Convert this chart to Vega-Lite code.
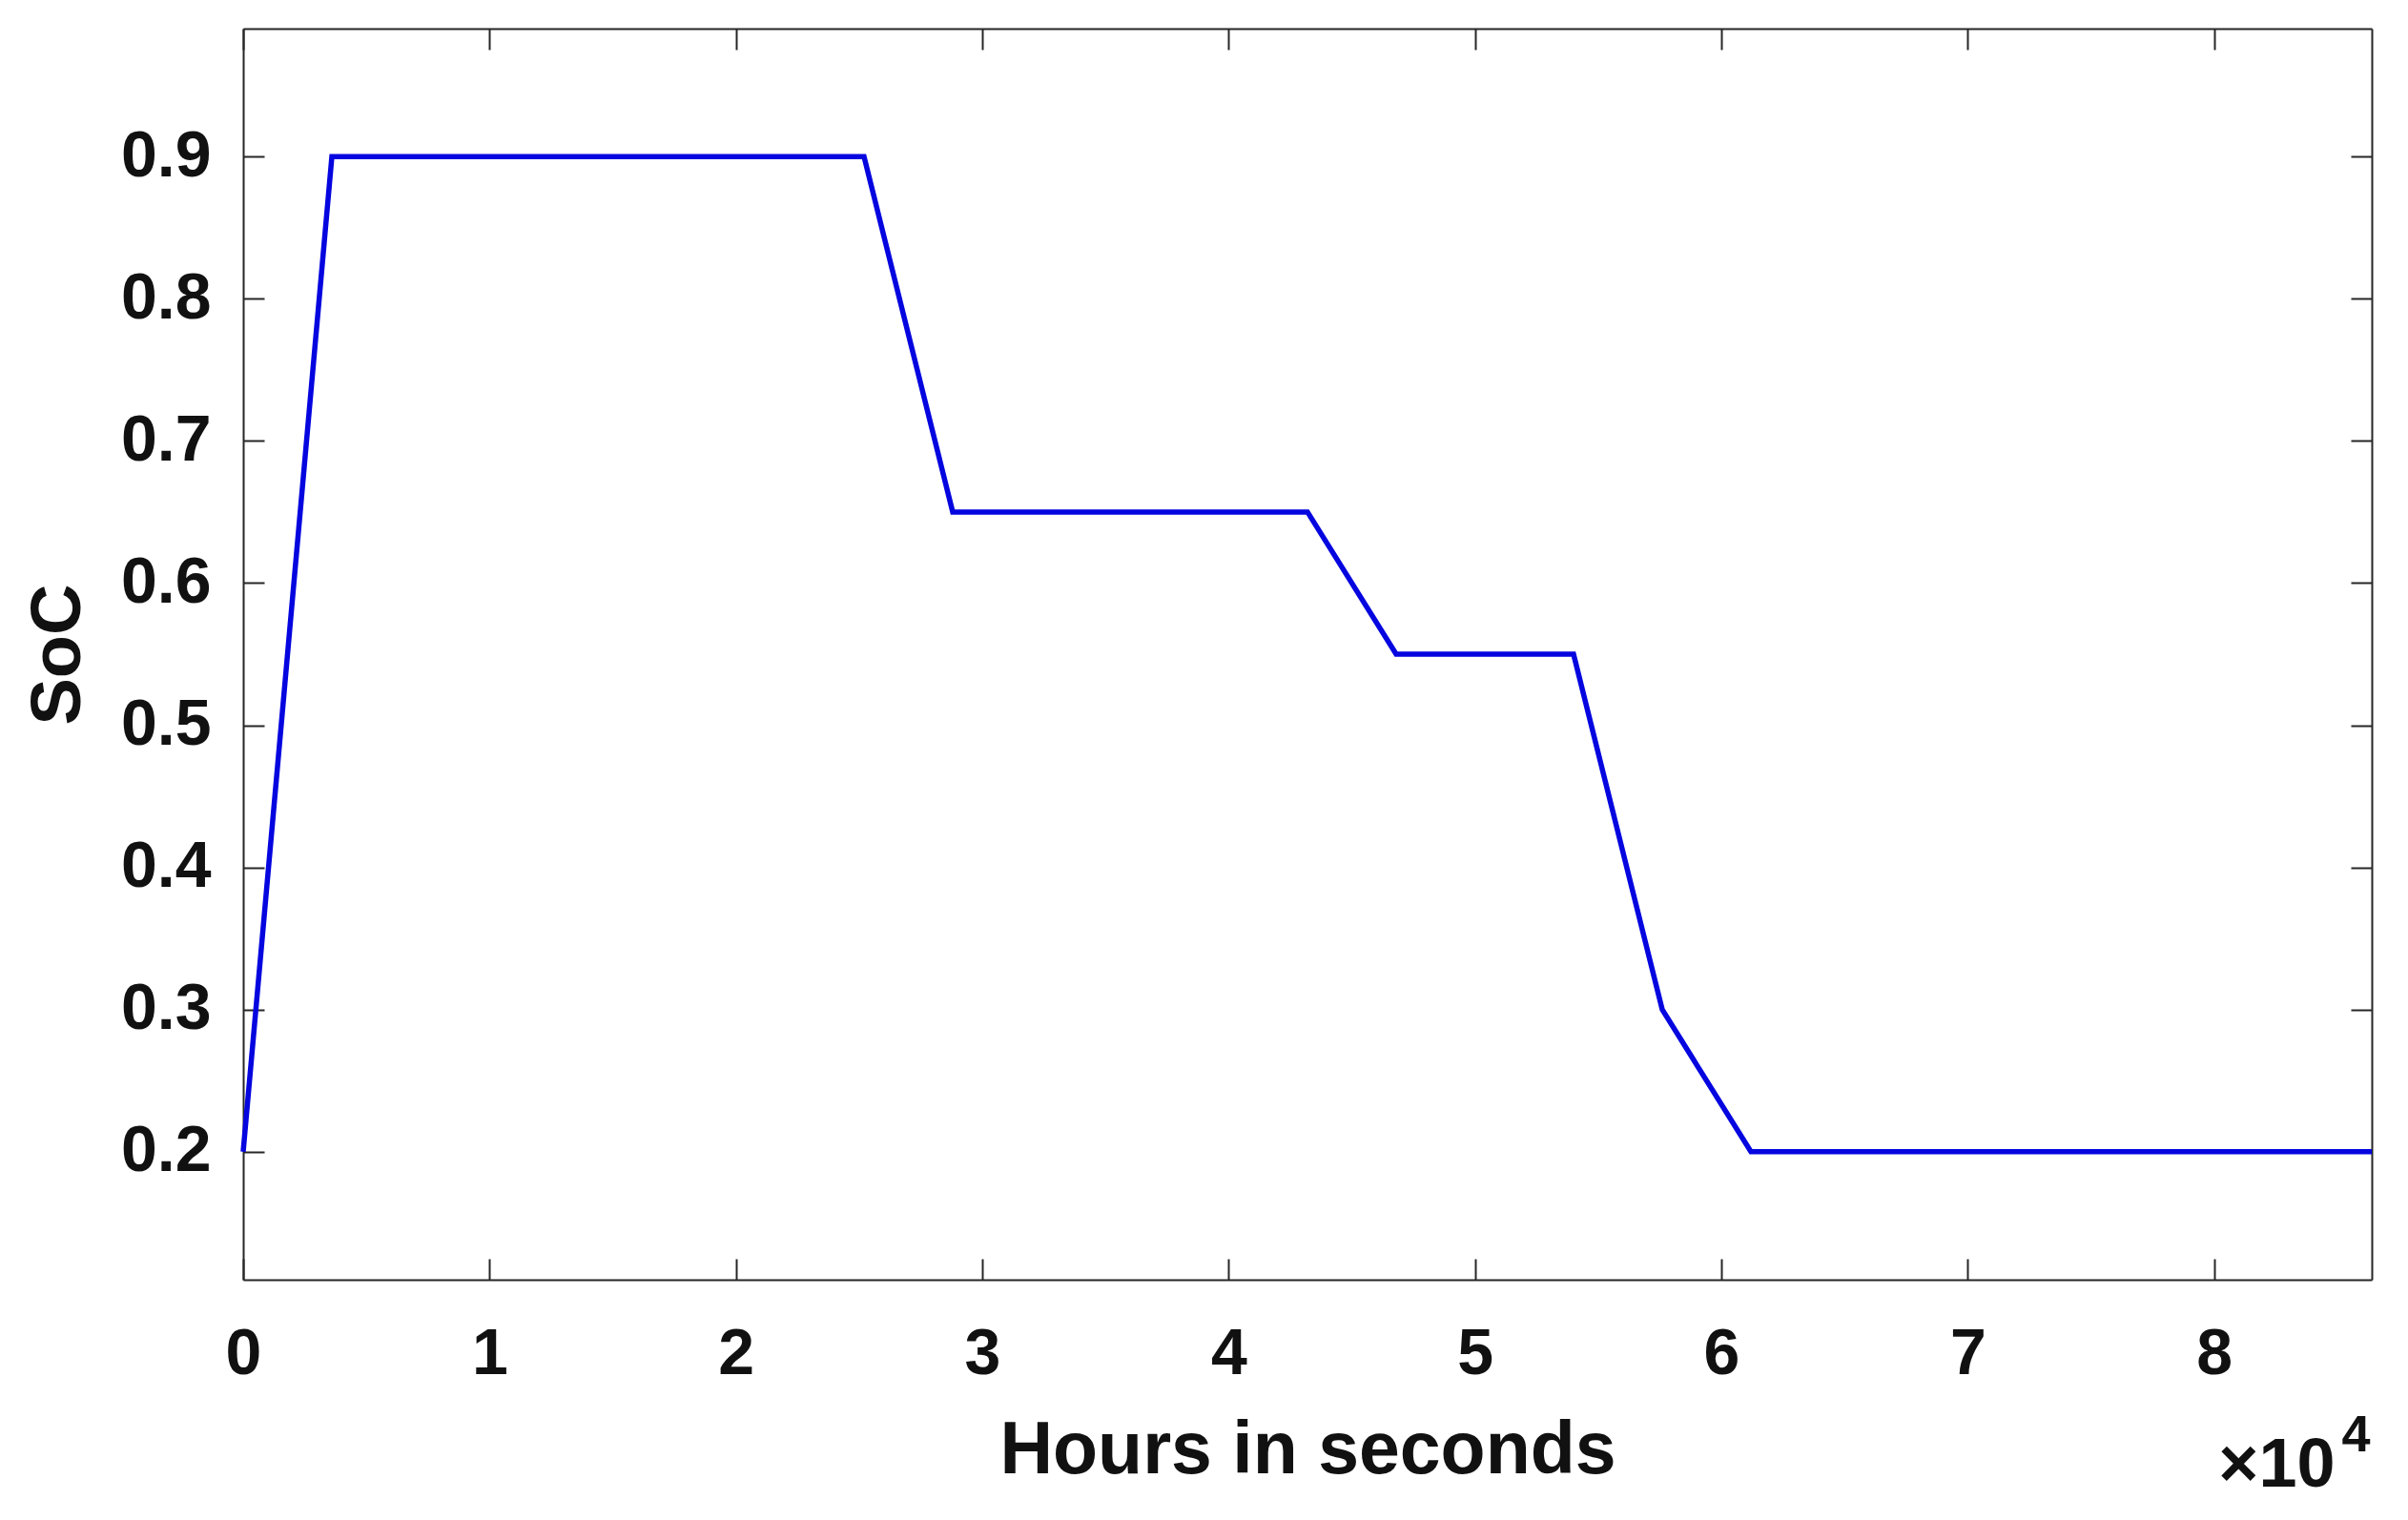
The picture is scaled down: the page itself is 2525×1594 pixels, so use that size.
{
  "$schema": "https://vega.github.io/schema/vega-lite/v6.json",
  "width": 2232,
  "height": 1312,
  "autosize": {"type": "none"},
  "padding": {"left": 255, "top": 30, "right": 38, "bottom": 252},
  "background": "white",
  "config": {
    "view": {"stroke": null},
    "font": "Liberation Sans",
    "axis": {
      "grid": false,
      "domainColor": "#262626",
      "domainWidth": 2,
      "tickColor": "#262626",
      "tickWidth": 2,
      "tickSize": -22,
      "labelFont": "Liberation Sans",
      "labelFontSize": 68,
      "labelFontWeight": "bold",
      "labelColor": "#111111",
      "titleFont": "Liberation Sans",
      "titleFontWeight": "bold",
      "titleColor": "#111111"
    }
  },
  "data": {
    "values": [
      {"t": 0, "soc": 0.2},
      {"t": 3600, "soc": 0.9},
      {"t": 7200, "soc": 0.9},
      {"t": 10800, "soc": 0.9},
      {"t": 14400, "soc": 0.9},
      {"t": 18000, "soc": 0.9},
      {"t": 21600, "soc": 0.9},
      {"t": 25200, "soc": 0.9},
      {"t": 28800, "soc": 0.65},
      {"t": 32400, "soc": 0.65},
      {"t": 36000, "soc": 0.65},
      {"t": 39600, "soc": 0.65},
      {"t": 43200, "soc": 0.65},
      {"t": 46800, "soc": 0.55},
      {"t": 50400, "soc": 0.55},
      {"t": 54000, "soc": 0.55},
      {"t": 57600, "soc": 0.3},
      {"t": 61200, "soc": 0.2},
      {"t": 64800, "soc": 0.2},
      {"t": 68400, "soc": 0.2},
      {"t": 72000, "soc": 0.2},
      {"t": 75600, "soc": 0.2},
      {"t": 79200, "soc": 0.2},
      {"t": 82800, "soc": 0.2},
      {"t": 86400, "soc": 0.2}
    ]
  },
  "layer": [
    {
      "mark": {"type": "line", "color": "#0505e0", "strokeWidth": 5.5},
      "encoding": {
        "x": {
          "field": "t", "type": "quantitative",
          "scale": {"domain": [0, 86400], "nice": false, "zero": false},
          "axis": {
            "orient": "bottom",
            "values": [0, 10000, 20000, 30000, 40000, 50000, 60000, 70000, 80000],
            "labelExpr": "format(datum.value / 10000, 'd')",
            "labelPadding": 66,
            "labelFlush": false,
            "title": "Hours in seconds",
            "titleFontSize": 77,
            "titleBaseline": "alphabetic",
            "titleY": 202
          }
        },
        "y": {
          "field": "soc", "type": "quantitative",
          "scale": {"domain": [0.11, 0.99], "nice": false, "zero": false},
          "axis": {
            "orient": "left",
            "values": [0.2, 0.3, 0.4, 0.5, 0.6, 0.7, 0.8, 0.9],
            "format": ".1f",
            "labelPadding": 56,
            "labelFlush": false,
            "title": "SoC",
            "titleFontSize": 74,
            "titleBaseline": "alphabetic",
            "titleX": -172
          }
        }
      }
    },
    {
      "mark": {"type": "line", "opacity": 0},
      "encoding": {
        "x": {
          "field": "t", "type": "quantitative",
          "axis": {
            "orient": "top",
            "values": [0, 10000, 20000, 30000, 40000, 50000, 60000, 70000, 80000],
            "labels": false,
            "title": null
          }
        },
        "y": {
          "field": "soc", "type": "quantitative",
          "axis": {
            "orient": "right",
            "values": [0.2, 0.3, 0.4, 0.5, 0.6, 0.7, 0.8, 0.9],
            "labels": false,
            "title": "4",
            "titleAngle": 0,
            "titleFontSize": 54,
            "titleFontWeight": "bold",
            "titleAlign": "right",
            "titleBaseline": "alphabetic",
            "titleX": -2,
            "titleY": 1491
          }
        }
      }
    },
    {
      "mark": {"type": "line", "opacity": 0},
      "encoding": {
        "x": {
          "field": "t", "type": "quantitative",
          "axis": {
            "orient": "bottom",
            "labels": false,
            "ticks": false,
            "domain": false,
            "title": "×10",
            "titleFontSize": 72,
            "titleFontWeight": "bold",
            "titleAlign": "right",
            "titleBaseline": "alphabetic",
            "titleX": 2193,
            "titleY": 216
          }
        },
        "y": {"field": "soc", "type": "quantitative", "axis": null}
      }
    }
  ],
  "resolve": {"axis": {"x": "independent", "y": "independent"}}
}
